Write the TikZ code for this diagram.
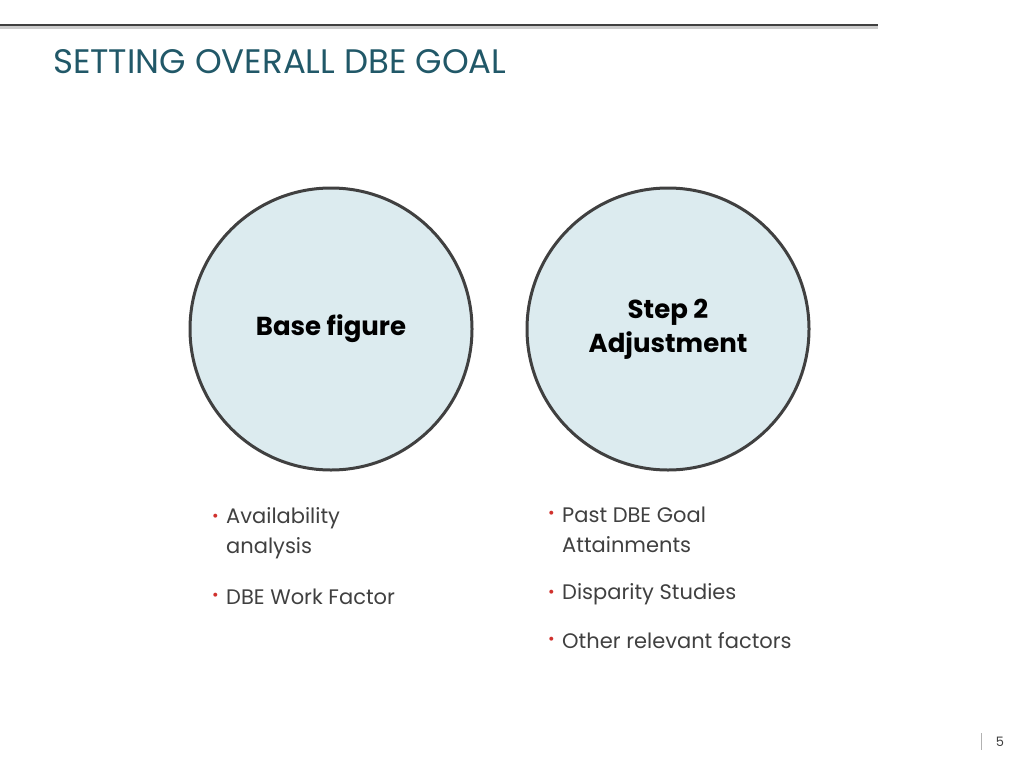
\documentclass[tikz,border=0pt]{standalone}
\usepackage{fontspec}
\setmainfont{Poppins}
\usepackage{xcolor}
\usetikzlibrary{positioning}
\definecolor{titleteal}{HTML}{215868}
\definecolor{circfill}{HTML}{DCEBEF}
\definecolor{darkgray}{HTML}{404040}
\definecolor{dotred}{HTML}{D0312D}

\begin{document}
\begin{tikzpicture}[x=1pt, y=-1pt]
		\tikzstyle{disc} = [draw=darkgray, line width=3pt, fill=circfill, circle, minimum size=282pt, align=center, font=\fontsize{26}{34}\selectfont\bfseries, text=black]
		\tikzstyle{item} = [anchor=west, text=darkgray, font=\fontsize{21}{30}\selectfont, align=left, inner sep=0pt]
		\tikzstyle{dot} = [anchor=east, text=dotred, font=\fontsize{16}{20}\selectfont, inner sep=0pt]
		\useasboundingbox (0, 0) rectangle (1024, 768);
		
		\draw[gray!40, line width=3pt] (0, 28) -- (878, 28);
		\draw[darkgray, line width=1.5pt] (0, 25) -- (878, 25);
		\node[anchor=west, text=titleteal, font=\fontsize{34}{40}\selectfont, inner sep=0pt] at (53, 62) (title) {SETTING OVERALL DBE GOAL};
		
		\node[disc] at (331, 329) (base) {Base figure};
		\node[disc] at (668, 329) (step) {Step 2\\Adjustment};
		
		\node[item] at (226, 533) (a1) {Availability\\analysis};
		\node[item] at (226, 597) (a2) {DBE Work Factor};
		\node[item] at (562, 530) (b1) {Past DBE Goal\\Attainments};
		\node[item] at (562, 594) (b2) {Disparity Studies};
		\node[item] at (562, 641) (b3) {Other relevant factors};
		\foreach \n in {a1, b1} \node[dot] at ([xshift=-7pt, yshift=15pt]\n.west) {•};
		\foreach \n in {a2, b2, b3} \node[dot] at ([xshift=-7pt]\n.west) {•};
		
		\draw[gray!60, line width=0.6pt] (981, 733) -- (981, 750);
		\node[text=darkgray, font=\fontsize{13}{15}\selectfont] at (1000, 742) (page) {5};
	\end{tikzpicture}
\end{document}
